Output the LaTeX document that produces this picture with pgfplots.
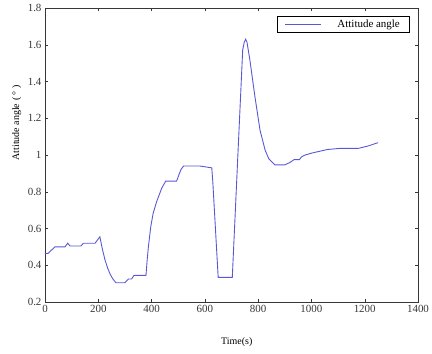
\documentclass[border=0pt]{standalone}
\usepackage{pgfplots}
\pgfplotsset{compat=1.18}
\usepackage{fontspec}
\setmainfont{Liberation Serif}
\definecolor{linec}{RGB}{88,88,215}
\definecolor{axc}{RGB}{55,55,55}
\begin{document}
\begin{tikzpicture}
\useasboundingbox (-45bp,-52bp) rectangle (387bp,302bp);
\begin{axis}[
  scale only axis,
  width=373bp, height=294bp,
  xmin=0, xmax=1400, ymin=0.2, ymax=1.8,
  xtick={0,200,...,1400},
  ytick={0.2,0.4,...,1.8},
  yticklabels={0.2,0.4,0.6,0.8,1,1.2,1.4,1.6,1.8},
  scaled ticks=false,
  /pgf/number format/set thousands separator={},
  tick align=inside,
  major tick length=3bp,
  axis line style={axc},
  tick style={axc},
  /pgf/number format/assume math mode=true,
  ticklabel style={font=\fontsize{11}{13}\selectfont, text=axc},
  xlabel={Time(s)},
  ylabel={Attitude angle\,\,(\,°\,\,)},
  label style={font=\fontsize{10}{12}\selectfont},
  xlabel style={at={(axis description cs:0.514,-0.138)}, anchor=center},
  ylabel style={at={(axis description cs:-0.076,0.61)}, anchor=center},
  legend style={at={(axis description cs:0.976,0.973)}, anchor=north east,
    draw=black, font=\fontsize{11}{12}\selectfont, inner xsep=7bp, inner ysep=1.5bp,
    nodes={inner sep=2bp}},
  legend image code/.code={\draw[#1] (0bp,0bp) -- (36bp,0bp);},
  legend cell align=left,
]
\addplot[color=linec, line width=0.9pt] coordinates {
(0,0.465) (12,0.465) (37,0.50) (75,0.50) (85,0.52) (94,0.505) (135,0.505)
(144,0.52) (188,0.52) (206,0.555) (215,0.49) (225,0.43) (235,0.385)
(245,0.35) (255,0.325) (266,0.305) (300,0.305) (313,0.325) (325,0.325)
(334,0.345) (379,0.345) (383,0.42) (388,0.50) (397,0.61) (406,0.683)
(419,0.746) (438,0.819) (453,0.858) (494,0.858) (502,0.89) (510,0.92)
(520,0.94) (582,0.94) (626,0.93) (630,0.85) (650,0.334) (703,0.334)
(723,0.97) (742,1.571) (748,1.615) (753,1.63) (758,1.615) (769,1.517)
(788,1.317) (807,1.136) (826,1.027) (840,0.98) (851,0.963) (863,0.946)
(900,0.946) (920,0.96) (935,0.975) (955,0.975) (963,0.99) (976,1.00)
(1000,1.01) (1030,1.02) (1060,1.03) (1107,1.036) (1176,1.036)
(1210,1.048) (1250,1.067)
};
\addlegendentry{\hspace{14bp}Attitude angle\hspace{6bp}}
\end{axis}
\end{tikzpicture}
\end{document}
